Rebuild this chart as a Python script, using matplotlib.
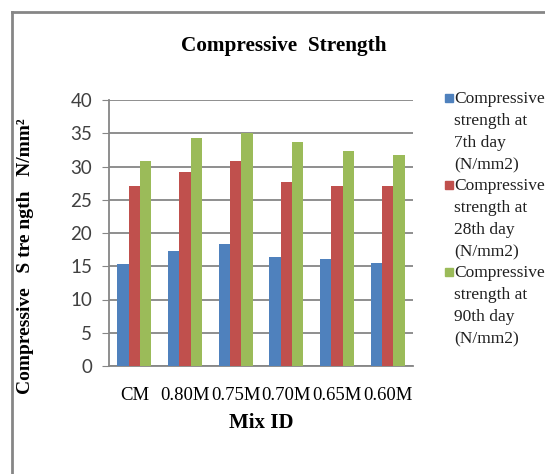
import matplotlib.pyplot as plt
import numpy as np
from matplotlib.patches import Rectangle
from matplotlib.lines import Line2D

# data
mix_ids = ['CM', '0.80M', '0.75M', '0.70M', '0.65M', '0.60M']
day7 = [15.3, 17.3, 18.4, 16.4, 16.1, 15.5]
day28 = [27.1, 29.1, 30.8, 27.7, 27.1, 27.1]
day90 = [30.8, 34.3, 35.0, 33.7, 32.3, 31.7]
series_labels = ['Compressive\nstrength at\n7th day\n(N/mm2)',
                 'Compressive\nstrength at\n28th day\n(N/mm2)',
                 'Compressive\nstrength at\n90th day\n(N/mm2)']
colors = ['#4f81bd', '#c0504d', '#9bbb59']

serif = 'Liberation Serif'
sans = 'Lato'

fig = plt.figure(figsize=(5.45, 4.74), dpi=100)
W, H = 545, 474
ax = fig.add_axes([109 / W, 1 - 366 / H, (413 - 109) / W, (366 - 100) / H])

x = np.arange(len(mix_ids))
bw = 0.225
for i, vals in enumerate([day7, day28, day90]):
    ax.bar(x + (i - 1) * bw, vals, width=bw, color=colors[i], zorder=3)

ax.set_xlim(-0.5, len(mix_ids) - 0.5)
ax.set_ylim(0, 40)
ax.set_yticks(range(0, 41, 5))
ax.yaxis.grid(True, color='#868686', linewidth=1.3, zorder=0)
for s in ['top', 'right']:
    ax.spines[s].set_visible(False)
ax.spines['left'].set_color('#868686')
ax.spines['bottom'].set_color('#868686')
ax.spines['left'].set_linewidth(1.3)
ax.spines['bottom'].set_linewidth(1.3)
ax.tick_params(axis='y', length=5, color='#868686', labelsize=13.5, pad=7)
ax.tick_params(axis='x', length=0, pad=15)
for t in ax.get_yticklabels():
    t.set_fontfamily(sans)
    t.set_color('#404040')
ax.set_xticks(x)
ax.set_xticklabels(mix_ids, fontfamily=serif, fontsize=13.5)

ax.set_xlabel('Mix ID', fontfamily=serif, fontsize=15, fontweight='bold')
ax.xaxis.set_label_coords(0.5, -0.175)
ax.set_ylabel('Compressive   S tre ngth   N/mm²', fontfamily=serif,
              fontsize=14, fontweight='bold')
ax.yaxis.set_label_coords(-0.247, 0.414)

fig.text(284 / W, 1 - 46 / H, 'Compressive  Strength', fontfamily=serif,
         fontsize=15.3, fontweight='bold', ha='center', va='center')

# legend drawn by hand
top0 = 91
step = 87
for i, lab in enumerate(series_labels):
    ytop = top0 + i * step
    fig.add_artist(Rectangle((445 / W, 1 - (ytop + 11) / H), 7.5 / W, 8 / H,
                             transform=fig.transFigure, color=colors[i]))
    fig.text(454 / W, 1 - ytop / H, lab, fontfamily=serif, fontsize=12.5,
             va='top', ha='left', linespacing=1.5, color='#202020')

# chart frame (left and top edges visible)
fig.add_artist(Line2D([12 / W, 12 / W], [0, 1 - 12 / H], transform=fig.transFigure,
                      color='#868686', linewidth=2))
fig.add_artist(Line2D([12 / W, 1], [1 - 12 / H, 1 - 12 / H], transform=fig.transFigure,
                      color='#868686', linewidth=2))

fig.savefig('out.png', dpi=100)
